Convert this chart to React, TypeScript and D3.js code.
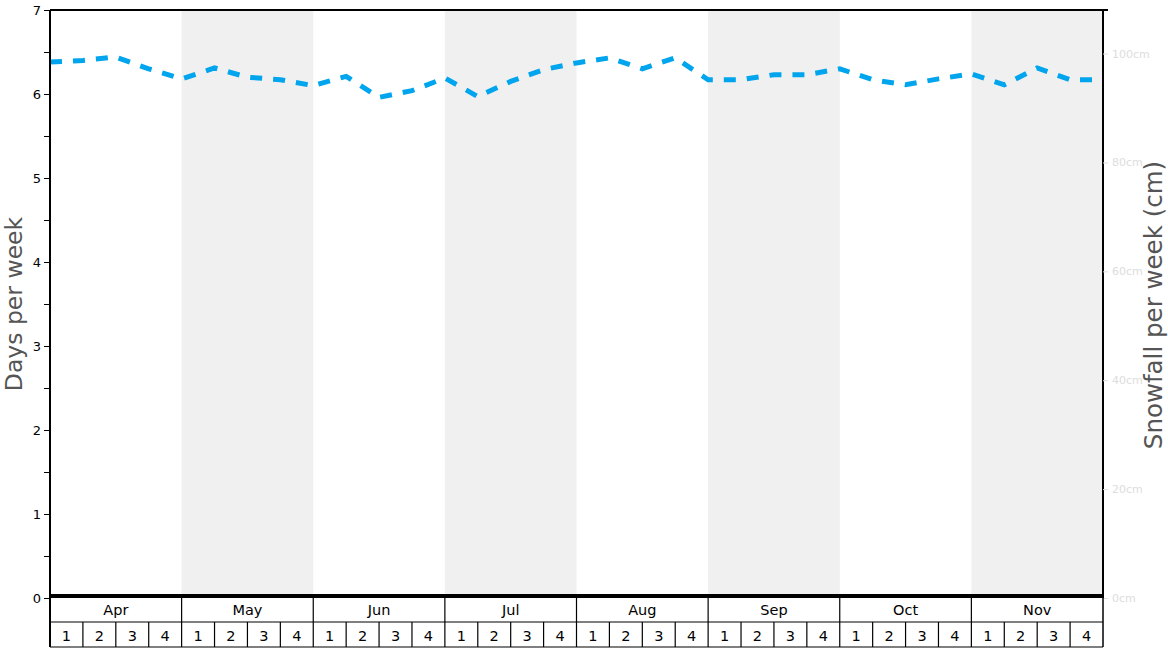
import React, { useEffect, useRef } from 'react';
import * as d3 from 'd3';

const months = ['Apr', 'May', 'Jun', 'Jul', 'Aug', 'Sep', 'Oct', 'Nov'];
const weeks = ['1', '2', '3', '4'];
// days per week, one value per week boundary (Apr wk1 .. end of Nov)
const daysPerWeek = [
  6.38, 6.4, 6.44, 6.3, 6.18, 6.31, 6.2, 6.17, 6.1, 6.21, 5.96, 6.04, 6.19, 5.97, 6.15, 6.29,
  6.37, 6.43, 6.3, 6.43, 6.17, 6.17, 6.23, 6.23, 6.3, 6.17, 6.11, 6.18, 6.24, 6.11, 6.31, 6.17, 6.17,
];
const leftTicks = [0, 1, 2, 3, 4, 5, 6, 7];
const rightTicks = [0, 20, 40, 60, 80, 100];

const App: React.FC = () => {
  const svgRef = useRef<SVGSVGElement>(null);

  useEffect(() => {
    const W = 1168;
    const H = 648;
    const left = 50;
    const right = 1103;
    const top = 10;
    const base = 598;
    const font = 'DejaVu Sans, sans-serif';

    const svg = d3.select(svgRef.current).attr('width', W).attr('height', H);
    svg.selectAll('*').remove();

    const x = d3.scaleLinear().domain([0, daysPerWeek.length - 1]).range([left, right]);
    const y = d3.scaleLinear().domain([0, 7]).range([base, top]);
    const yR = d3.scaleLinear().domain([0, 108]).range([base, top]);
    const xMonth = d3.scaleBand<string>().domain(months).range([left, right]);
    const xWeek = d3.scaleBand<string>().domain(weeks).range([0, xMonth.bandwidth()]);

    // alternating month bands
    svg.append('g')
      .selectAll('rect')
      .data(months.filter((_, i) => i % 2 === 1))
      .enter().append('rect')
      .attr('x', d => xMonth(d)!)
      .attr('y', top)
      .attr('width', xMonth.bandwidth())
      .attr('height', base - top - 4)
      .attr('fill', '#f0f0f0');

    // line
    const line = d3.line<number>()
      .x((_, i) => x(i))
      .y(d => y(d));

    svg.append('path')
      .datum(daysPerWeek)
      .attr('d', line)
      .attr('fill', 'none')
      .attr('stroke', '#00a5ee')
      .attr('stroke-width', 5)
      .attr('stroke-dasharray', '12,11');

    // frame
    svg.append('line').attr('x1', left).attr('x2', right + 5).attr('y1', top).attr('y2', top)
      .attr('stroke', '#000').attr('stroke-width', 2);
    svg.append('line').attr('x1', right).attr('x2', right).attr('y1', top).attr('y2', base)
      .attr('stroke', '#000').attr('stroke-width', 2);
    svg.append('line').attr('x1', left).attr('x2', left).attr('y1', top).attr('y2', 647)
      .attr('stroke', '#000').attr('stroke-width', 2);
    svg.append('line').attr('x1', left).attr('x2', right).attr('y1', base - 2).attr('y2', base - 2)
      .attr('stroke', '#000').attr('stroke-width', 4);

    // left axis
    const yAxis = d3.axisLeft(y)
      .tickValues(d3.range(0, 7.01, 0.5))
      .tickSize(6)
      .tickFormat(d => (leftTicks.includes(+d) ? String(d) : ''));
    const gl = svg.append('g').attr('transform', `translate(${left},0)`).call(yAxis as any);
    gl.select('.domain').remove();
    gl.selectAll('text').attr('font-family', font).attr('font-size', 13).attr('fill', '#000');

    // right axis
    const yAxisR = d3.axisRight(yR)
      .tickValues(rightTicks)
      .tickSize(5)
      .tickFormat(d => `${d}cm`);
    const gr = svg.append('g').attr('transform', `translate(${right},0)`).call(yAxisR as any);
    gr.select('.domain').remove();
    gr.selectAll('line').attr('stroke', '#ddd');
    gr.selectAll('text').attr('font-family', font).attr('font-size', 11).attr('fill', '#ddd').attr('x', 9);

    // axis titles
    svg.append('text')
      .attr('transform', `translate(22, 304) rotate(-90)`)
      .attr('text-anchor', 'middle')
      .attr('font-family', font)
      .attr('font-size', 23.5)
      .attr('fill', '#555')
      .text('Days per week');

    svg.append('text')
      .attr('transform', `translate(1162, 305) rotate(-90)`)
      .attr('text-anchor', 'middle')
      .attr('font-family', font)
      .attr('font-size', 24.5)
      .attr('fill', '#555')
      .text('Snowfall per week (cm)');

    // month / week table
    const rowMid = 622;
    const rowEnd = 647;
    const table = svg.append('g');
    table.append('line').attr('x1', left).attr('x2', right).attr('y1', rowMid).attr('y2', rowMid)
      .attr('stroke', '#000').attr('stroke-width', 1.2);
    table.append('line').attr('x1', left).attr('x2', right).attr('y1', rowEnd).attr('y2', rowEnd)
      .attr('stroke', '#000').attr('stroke-width', 1.2);
    table.append('line').attr('x1', right).attr('x2', right).attr('y1', base).attr('y2', rowEnd)
      .attr('stroke', '#000').attr('stroke-width', 1.5);

    const mg = table.selectAll('g.month')
      .data(months)
      .enter().append('g')
      .attr('class', 'month')
      .attr('transform', d => `translate(${xMonth(d)},0)`);

    mg.append('line')
      .attr('x1', 0).attr('x2', 0).attr('y1', base).attr('y2', rowEnd)
      .attr('stroke', '#000').attr('stroke-width', 1.2);
    mg.append('text')
      .attr('x', xMonth.bandwidth() / 2)
      .attr('y', 615)
      .attr('text-anchor', 'middle')
      .attr('font-family', font)
      .attr('font-size', 14.5)
      .attr('fill', '#000')
      .text(d => d);

    mg.selectAll('line.week')
      .data(weeks.slice(1))
      .enter().append('line')
      .attr('class', 'week')
      .attr('x1', d => xWeek(d)!).attr('x2', d => xWeek(d)!)
      .attr('y1', rowMid).attr('y2', rowEnd)
      .attr('stroke', '#000').attr('stroke-width', 1.2);
    mg.selectAll('text.week')
      .data(weeks)
      .enter().append('text')
      .attr('class', 'week')
      .attr('x', d => xWeek(d)! + xWeek.bandwidth() / 2)
      .attr('y', 641)
      .attr('text-anchor', 'middle')
      .attr('font-family', font)
      .attr('font-size', 14.5)
      .attr('fill', '#000')
      .text(d => d);
  }, []);

  return (
    <svg ref={svgRef} style={{ position: 'absolute', left: 0, top: 0, display: 'block' }}></svg>
  );
};

export default App;
